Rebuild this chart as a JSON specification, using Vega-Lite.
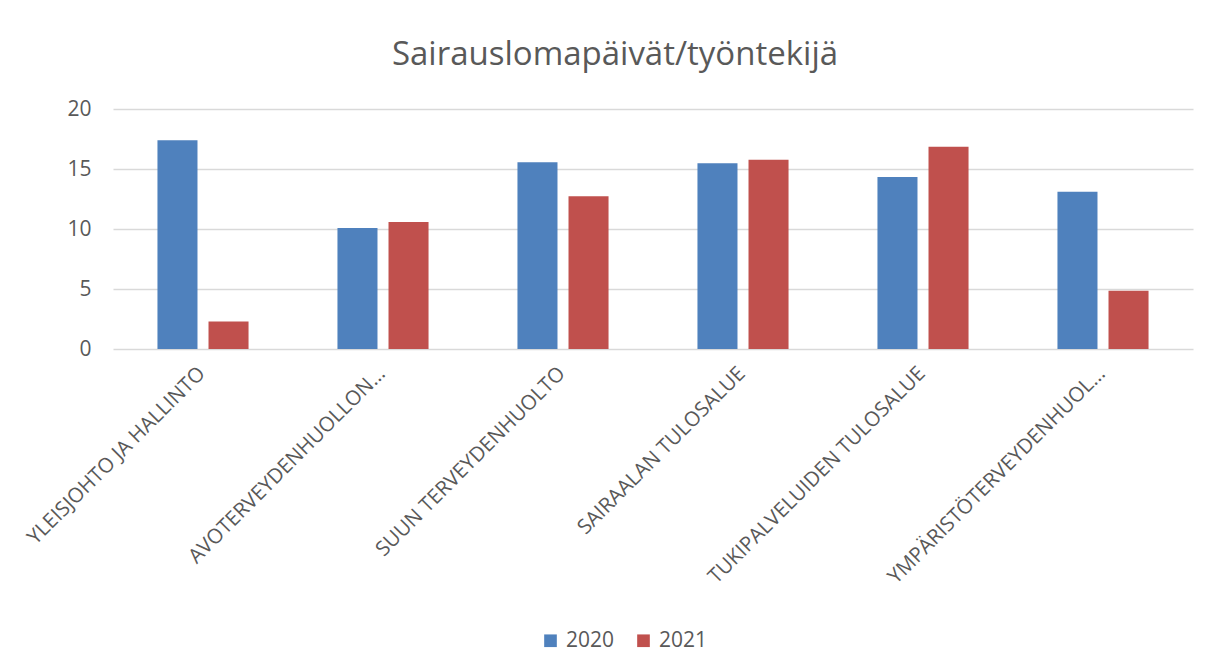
{
  "$schema": "https://vega.github.io/schema/vega-lite/v6.json",
  "width": 1080,
  "height": 240,
  "padding": {"left": 23, "top": 39, "right": 30, "bottom": 10},
  "background": "white",
  "title": {
    "text": "Sairauslomapäivät/työntekijä",
    "font": "Open Sans",
    "fontSize": 33,
    "fontWeight": 400,
    "color": "#595959",
    "offset": 26,
    "dx": -38
  },
  "data": {
    "values": [
      {"alue": "YLEISJOHTO JA HALLINTO", "vuosi": "2020", "arvo": 17.39},
      {"alue": "YLEISJOHTO JA HALLINTO", "vuosi": "2021", "arvo": 2.30},
      {"alue": "AVOTERVEYDENHUOLLON...", "vuosi": "2020", "arvo": 10.09},
      {"alue": "AVOTERVEYDENHUOLLON...", "vuosi": "2021", "arvo": 10.59},
      {"alue": "SUUN TERVEYDENHUOLTO", "vuosi": "2020", "arvo": 15.56},
      {"alue": "SUUN TERVEYDENHUOLTO", "vuosi": "2021", "arvo": 12.73},
      {"alue": "SAIRAALAN TULOSALUE", "vuosi": "2020", "arvo": 15.47},
      {"alue": "SAIRAALAN TULOSALUE", "vuosi": "2021", "arvo": 15.77},
      {"alue": "TUKIPALVELUIDEN TULOSALUE", "vuosi": "2020", "arvo": 14.33},
      {"alue": "TUKIPALVELUIDEN TULOSALUE", "vuosi": "2021", "arvo": 16.86},
      {"alue": "YMPÄRISTÖTERVEYDENHUOL...", "vuosi": "2020", "arvo": 13.11},
      {"alue": "YMPÄRISTÖTERVEYDENHUOL...", "vuosi": "2021", "arvo": 4.85}
    ]
  },
  "mark": {"type": "bar"},
  "encoding": {
    "x": {
      "field": "alue",
      "type": "nominal",
      "sort": null,
      "title": null,
      "scale": {"paddingInner": 0.494, "paddingOuter": 0.247},
      "axis": {
        "labelAngle": -45,
        "labelFont": "Open Sans",
        "labelFontSize": 20.5,
        "labelColor": "#595959",
        "labelPadding": 14,
        "labelOffset": -8,
        "ticks": false,
        "domain": false,
        "labelLimit": 400
      }
    },
    "xOffset": {
      "field": "vuosi",
      "type": "nominal",
      "scale": {"paddingInner": 0.216, "paddingOuter": 0}
    },
    "y": {
      "field": "arvo",
      "type": "quantitative",
      "title": null,
      "scale": {"domain": [0, 20]},
      "axis": {
        "values": [0, 5, 10, 15, 20],
        "labelFont": "Open Sans",
        "labelFontSize": 21,
        "labelColor": "#595959",
        "labelPadding": 22,
        "ticks": false,
        "domain": false,
        "gridColor": "#D9D9D9",
        "gridWidth": 1.5
      }
    },
    "color": {
      "field": "vuosi",
      "type": "nominal",
      "scale": {"domain": ["2020", "2021"], "range": ["#4F81BD", "#C0504D"]},
      "legend": {
        "title": null,
        "orient": "none",
        "legendX": 427,
        "legendY": 521,
        "direction": "horizontal",
        "symbolType": "square",
        "symbolSize": 160,
        "symbolStrokeWidth": 0,
        "labelFont": "Open Sans",
        "labelFontSize": 21,
        "labelColor": "#595959",
        "labelOffset": 5,
        "columnPadding": 18
      }
    }
  },
  "config": {
    "view": {"stroke": null}
  }
}
